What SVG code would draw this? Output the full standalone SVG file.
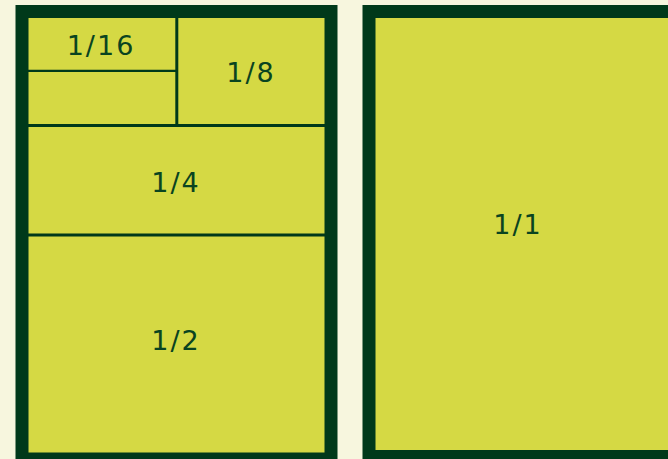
<svg xmlns="http://www.w3.org/2000/svg" width="668" height="459" viewBox="0 0 668 459">
<style>
.frame{fill:#d5d944;stroke:#00391a;stroke-width:13}
.div{stroke:#00391a;fill:none}
text{font-family:"DejaVu Sans","Liberation Sans",sans-serif;font-size:27px;fill:#0a4420;text-anchor:middle;letter-spacing:2px}
</style>
<rect width="668" height="459" fill="#f7f6de"/>
<g id="left-sheet">
<rect class="frame" x="22" y="11.5" width="309" height="447.5"/>
</g>
<g id="right-sheet">
<rect class="frame" x="369" y="11.5" width="320" height="445"/>
<text x="518" y="234">1/1</text>
</g>
<g id="connectors">
<line class="div" x1="28" y1="125.5" x2="325" y2="125.5" stroke-width="3"/>
<line class="div" x1="28" y1="235" x2="325" y2="235" stroke-width="3"/>
<line class="div" x1="176.8" y1="17" x2="176.8" y2="125" stroke-width="3"/>
<line class="div" x1="28" y1="70.8" x2="176" y2="70.8" stroke-width="2.2"/>
</g>
<g id="half"><text x="176" y="350">1/2</text></g>
<g id="quarter"><text x="176" y="192">1/4</text></g>
<g id="eighth"><text x="251" y="82">1/8</text></g>
<g id="sixteenth"><text x="101" y="55">1/16</text></g>
</svg>
